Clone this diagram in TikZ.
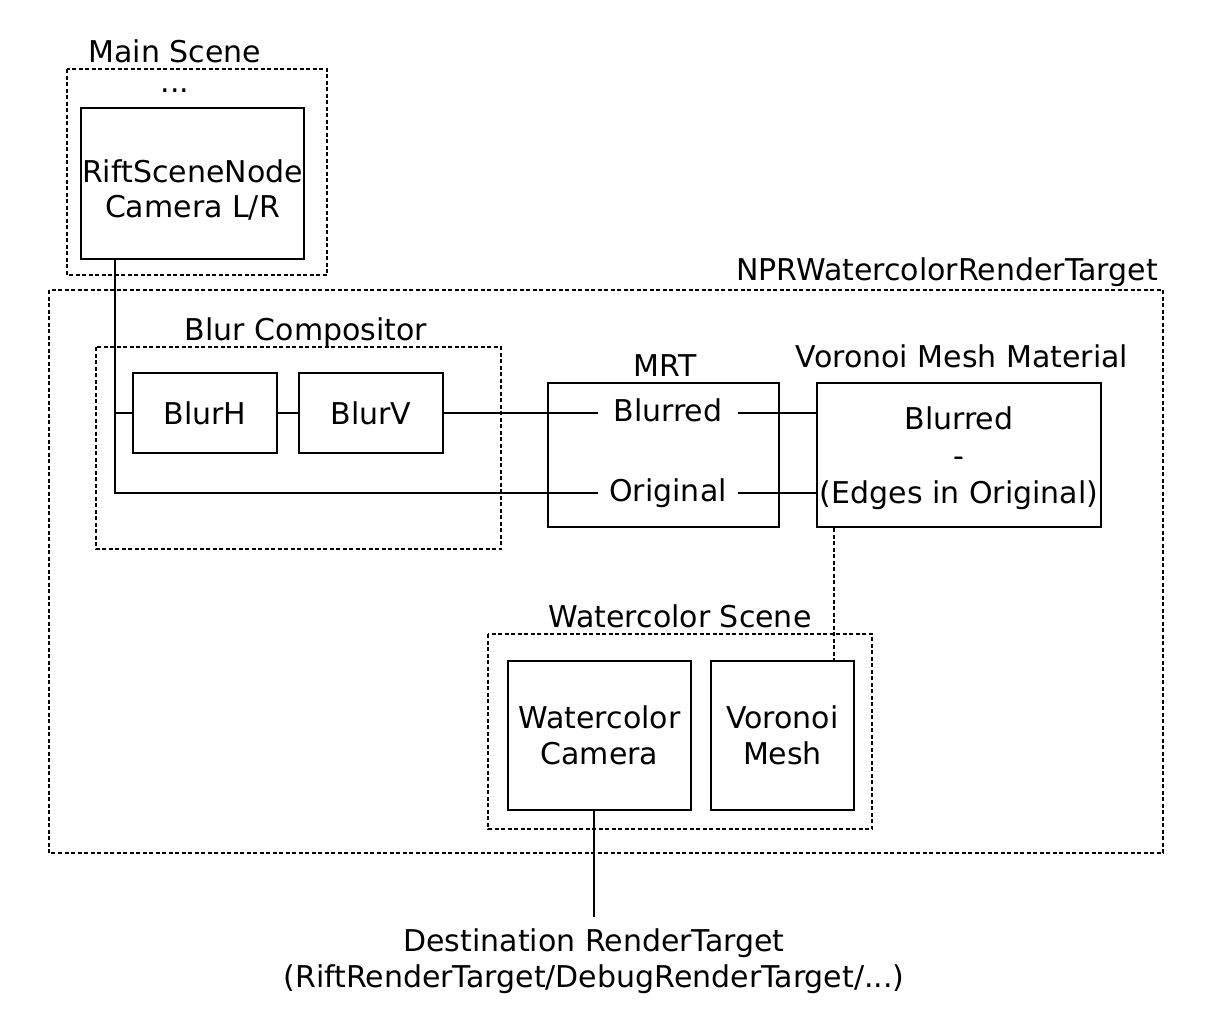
\documentclass[tikz,border=0pt]{standalone}
\usepackage{fontspec}
\setmainfont{DejaVu Sans}
\usetikzlibrary{positioning}

\tikzset{
  every node/.style={font=\fontsize{30}{36}\selectfont},
  box/.style={draw, line width=2pt, align=center, inner sep=0pt},
  group/.style={draw, line width=1.6pt, dash pattern=on 4pt off 2.5pt},
  title/.style={inner sep=0pt, anchor=base},
  port/.style={inner sep=0pt, text height=22pt, text depth=6pt, minimum width=140pt},
  wire/.style={line width=2pt},
  link/.style={line width=1.6pt, dash pattern=on 4pt off 2.5pt},
}

\begin{document}
\begin{tikzpicture}[x=1pt, y=-1pt]
        \useasboundingbox (0, 0) rectangle (1212, 1013);

        % dashed groups
        \draw[group] (67, 69) rectangle (327, 275);
        \draw[group] (49, 290) rectangle (1163, 853);
        \draw[group] (96, 347) rectangle (501, 549);
        \draw[group] (488, 634) rectangle (872, 829);

        \node[title] (mainlbl) at (175, 62) {Main Scene};
        \node[title] (dots) at (175, 92) {...};
        \node[title, anchor=base east] (nprlbl) at (1158, 280) {NPRWatercolorRenderTarget};
        \node[title] (blurlbl) at (306, 340) {Blur Compositor};
        \node[title] (mrtlbl) at (665, 376) {MRT};
        \node[title] (vmmlbl) at (962, 367) {Voronoi Mesh Material};
        \node[title] (wsclbl) at (680, 627) {Watercolor Scene};

        \node[box, minimum width=223pt, minimum height=151pt] (rift) at (192.5, 183.5) {};
        \node[align=center, inner sep=0pt, font=\fontsize{30}{35}\selectfont] (rifttext) at (192.5, 189.5) {RiftSceneNode\\Camera L/R};
        \node[box, minimum width=144pt, minimum height=80pt] (blurh) at (205, 413) {BlurH};
        \node[box, minimum width=144pt, minimum height=80pt] (blurv) at (371, 413) {BlurV};
        \node[box, minimum width=231pt, minimum height=144pt] (mrt) at (663.5, 455) {};
        \node[port] (mrtblur) at (668, 413) {Blurred};
        \node[port] (mrtorig) at (668, 493) {Original};
        \node[box, minimum width=284pt, minimum height=144pt, text depth=0pt] (vmm) at (959, 455) {Blurred\\[1pt]-\\[1pt](Edges in Original)};
        \node[box, minimum width=183pt, minimum height=149pt] (wcam) at (599.5, 735.5) {Watercolor\\Camera};
        \node[box, minimum width=143pt, minimum height=149pt] (vmesh) at (782.5, 735.5) {Voronoi\\Mesh};
        \node[align=center, inner sep=0pt, anchor=north] (dest) at (594, 928) {Destination RenderTarget\\(RiftRenderTarget/DebugRenderTarget/...)};

        \coordinate (riftout) at ([xshift=35pt]rift.south west);
        \coordinate (tap) at ([xshift=18pt]vmm.south west);

        \draw[wire] (riftout) |- (mrtorig.west);
        \draw[wire] (riftout |- blurh.west) -- (blurh.west);
        \draw[wire] (blurh) -- (blurv);
        \draw[wire] (blurv) -- (mrtblur);
        \draw[wire] (mrtblur.east) -- (mrtblur.east -| vmm.west);
        \draw[wire] (mrtorig.east) -- (mrtorig.east -| vmm.west);
        \draw[link] (tap) -- (tap |- vmesh.north);
        \draw[wire] (wcam.south -| dest.north) -- ([yshift=11pt]dest.north);

\end{tikzpicture}
\end{document}
